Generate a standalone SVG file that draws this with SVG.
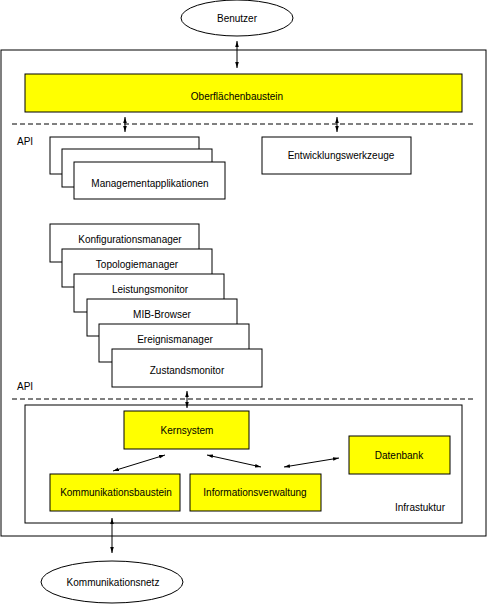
<svg xmlns="http://www.w3.org/2000/svg" width="487" height="605" viewBox="0 0 487 605">
<style>
.box{fill:#fff;stroke:#000;stroke-width:1}
.yb{fill:#ffff00;stroke:#000;stroke-width:1}
.t{font-family:"Liberation Sans",Arial,sans-serif;font-size:10px;fill:#000;text-anchor:middle}
.l{font-family:"Liberation Sans",Arial,sans-serif;font-size:10px;fill:#000}
.c{stroke:#000;stroke-width:1;fill:none;marker-start:url(#ah);marker-end:url(#ah)}
.d{stroke:#000;stroke-width:1;stroke-dasharray:5,3;fill:none}
</style>
<defs>
<marker id="ah" viewBox="0 0 10 10" refX="10" refY="5" markerWidth="6" markerHeight="6" orient="auto-start-reverse" markerUnits="userSpaceOnUse">
<path d="M0,2 L10,5 L0,8 z" fill="#000"/>
</marker>
</defs>
<rect width="487" height="605" fill="#fff"/>
<g id="frame"><rect x="1" y="50" width="485" height="486" class="box"/></g>
<g id="benutzer"><ellipse cx="237" cy="18" rx="56" ry="18" class="box"/><text x="237" y="22" class="t">Benutzer</text></g>
<g id="oberflaeche"><rect x="25" y="74" width="437" height="38" class="yb"/><text x="237" y="100" class="t">Oberflächenbaustein</text></g>
<g id="api-lines">
<line x1="12" y1="124" x2="473" y2="124" class="d"/>
<text x="17" y="145" class="l">API</text>
<line x1="12" y1="399" x2="473" y2="399" class="d"/>
<text x="17" y="390" class="l">API</text>
</g>
<g id="managementapplikationen">
<rect x="50" y="137" width="149" height="37" class="box"/>
<rect x="62" y="149" width="150" height="38" class="box"/>
<rect x="74" y="162" width="151" height="37" class="box"/>
<text x="150" y="187" class="t">Managementapplikationen</text>
</g>
<g id="entwicklungswerkzeuge"><rect x="262" y="137" width="149" height="37" class="box"/><text x="341" y="159" class="t">Entwicklungswerkzeuge</text></g>
<g id="konfigurationsmanager"><rect x="50" y="224" width="149" height="38" class="box"/><text x="130" y="243" class="t">Konfigurationsmanager</text></g>
<g id="topologiemanager"><rect x="62" y="249" width="150" height="38" class="box"/><text x="137" y="268" class="t">Topologiemanager</text></g>
<g id="leistungsmonitor"><rect x="74" y="274" width="150" height="38" class="box"/><text x="150" y="293" class="t">Leistungsmonitor</text></g>
<g id="mib-browser"><rect x="87" y="299" width="150" height="37" class="box"/><text x="162" y="318" class="t">MIB-Browser</text></g>
<g id="ereignismanager"><rect x="99" y="324" width="150" height="38" class="box"/><text x="175" y="343" class="t">Ereignismanager</text></g>
<g id="zustandsmonitor"><rect x="112" y="349" width="150" height="38" class="box"/><text x="187" y="374" class="t">Zustandsmonitor</text></g>
<g id="infrastruktur"><rect x="25" y="405" width="437" height="118" class="box"/><text x="420" y="511" class="t">Infrastuktur</text></g>
<g id="kernsystem"><rect x="124" y="411" width="125" height="38" class="yb"/><text x="187" y="434" class="t">Kernsystem</text></g>
<g id="datenbank"><rect x="349" y="436" width="101" height="38" class="yb"/><text x="399" y="459" class="t">Datenbank</text></g>
<g id="kommunikationsbaustein"><rect x="50" y="474" width="130" height="37" class="yb"/><text x="116" y="496" class="t">Kommunikationsbaustein</text></g>
<g id="informationsverwaltung"><rect x="190" y="474" width="131" height="37" class="yb"/><text x="255" y="496" class="t">Informationsverwaltung</text></g>
<g id="kommunikationsnetz"><ellipse cx="112" cy="582" rx="71" ry="21" class="box"/><text x="113" y="586" class="t">Kommunikationsnetz</text></g>
<g id="connectors">
<line x1="237" y1="41" x2="237" y2="68" class="c"/>
<line x1="125" y1="117" x2="125" y2="132" class="c"/>
<line x1="337" y1="117" x2="337" y2="132" class="c"/>
<line x1="187" y1="391" x2="187" y2="408" class="c"/>
<line x1="113" y1="471" x2="165" y2="455" class="c"/>
<line x1="207" y1="455" x2="261" y2="467" class="c"/>
<line x1="284" y1="467" x2="339" y2="458" class="c"/>
<line x1="112" y1="518" x2="112" y2="553" class="c"/>
</g>
</svg>
